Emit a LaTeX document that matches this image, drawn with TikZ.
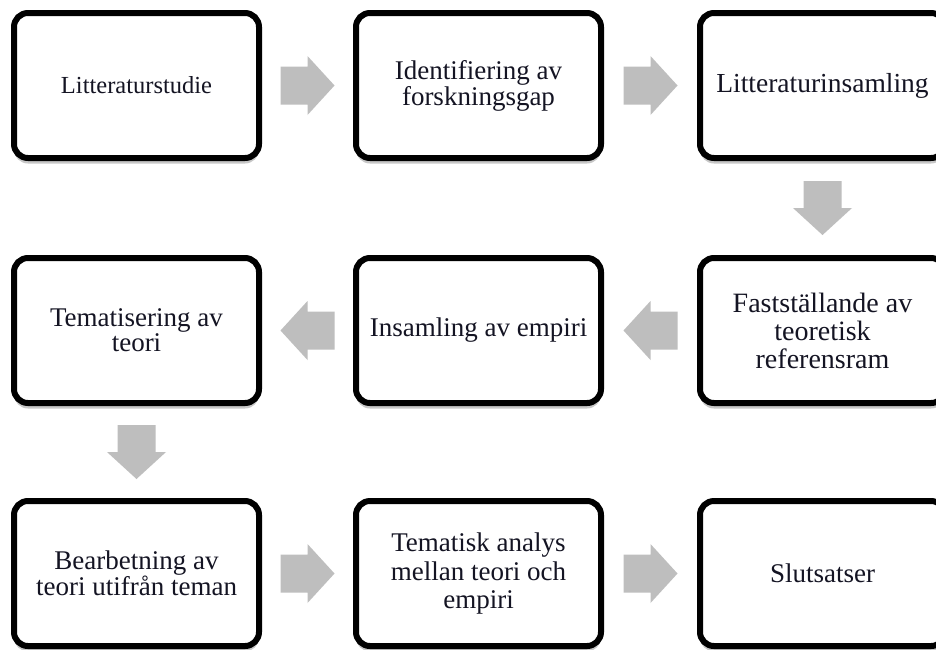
\documentclass[tikz,border=0pt]{standalone}
\usepackage{fontspec}
\setmainfont{Liberation Serif}
\usetikzlibrary{shadows,calc}
\definecolor{arrowgray}{RGB}{190,190,190}
\definecolor{txt}{RGB}{20,20,35}
\tikzset{
  box/.style={draw=black, line width=6pt, rounded corners=14pt, fill=white,
    minimum width=245pt, minimum height=145pt, inner sep=0pt, align=center,
    text=txt,
    drop shadow={shadow xshift=0pt, shadow yshift=-5.5pt, opacity=0.22, fill=black}},
  barrow/.pic={\fill[arrowgray] (-27pt,-19pt) -- (0pt,-19pt) -- (0pt,-29.5pt) -- (27pt,0pt)
     -- (0pt,29.5pt) -- (0pt,19pt) -- (-27pt,19pt) -- cycle;}
}
\begin{document}
\begin{tikzpicture}[x=1pt,y=-1pt]
\useasboundingbox (0,0) rectangle (936,649);
\fill[white] (0,0) rectangle (936,649);
% row 1
\node[box, font=\fontsize{24.5pt}{26pt}\selectfont] (n1) at (136.5,85.5) {Litteraturstudie};
\node[box, font=\fontsize{27pt}{23pt}\selectfont] (n2) at (478.5,85.5) {Identifiering av\\forskningsgap};
\node[box, font=\fontsize{27.5pt}{28pt}\selectfont] (n3) at (822.5,85.5) {Litteraturinsamling};
% row 2
\node[box, font=\fontsize{28pt}{28pt}\selectfont] (n4) at (822.5,330.5) {Fastställande av\\teoretisk\\referensram};
\node[box, font=\fontsize{27pt}{28pt}\selectfont] (n5) at (478.5,330.5) {Insamling av empiri};
\node[box, font=\fontsize{27pt}{22pt}\selectfont] (n6) at (136.5,330.5) {Tematisering av\\teori};
% row 3
\node[box, font=\fontsize{27pt}{20pt}\selectfont] (n7) at (136.5,573.5) {Bearbetning av\\teori utifrån teman};
\node[box, font=\fontsize{27pt}{28.5pt}\selectfont] (n8) at (478.5,573.5) {Tematisk analys\\mellan teori och\\empiri};
\node[box, font=\fontsize{27pt}{28pt}\selectfont] (n9) at (822.5,573.5) {Slutsatser};
% arrows
\pic at ($(n1.east)!0.5!(n2.west)$) {barrow};
\pic at ($(n2.east)!0.5!(n3.west)$) {barrow};
\pic[rotate=-90] at ($(n3.south)!0.5!(n4.north)$) {barrow};
\pic[rotate=180] at ($(n4.west)!0.5!(n5.east)$) {barrow};
\pic[rotate=180] at ($(n5.west)!0.5!(n6.east)$) {barrow};
\pic[rotate=-90] at ($(n6.south)!0.5!(n7.north)$) {barrow};
\pic at ($(n7.east)!0.5!(n8.west)$) {barrow};
\pic at ($(n8.east)!0.5!(n9.west)$) {barrow};
\end{tikzpicture}
\end{document}
